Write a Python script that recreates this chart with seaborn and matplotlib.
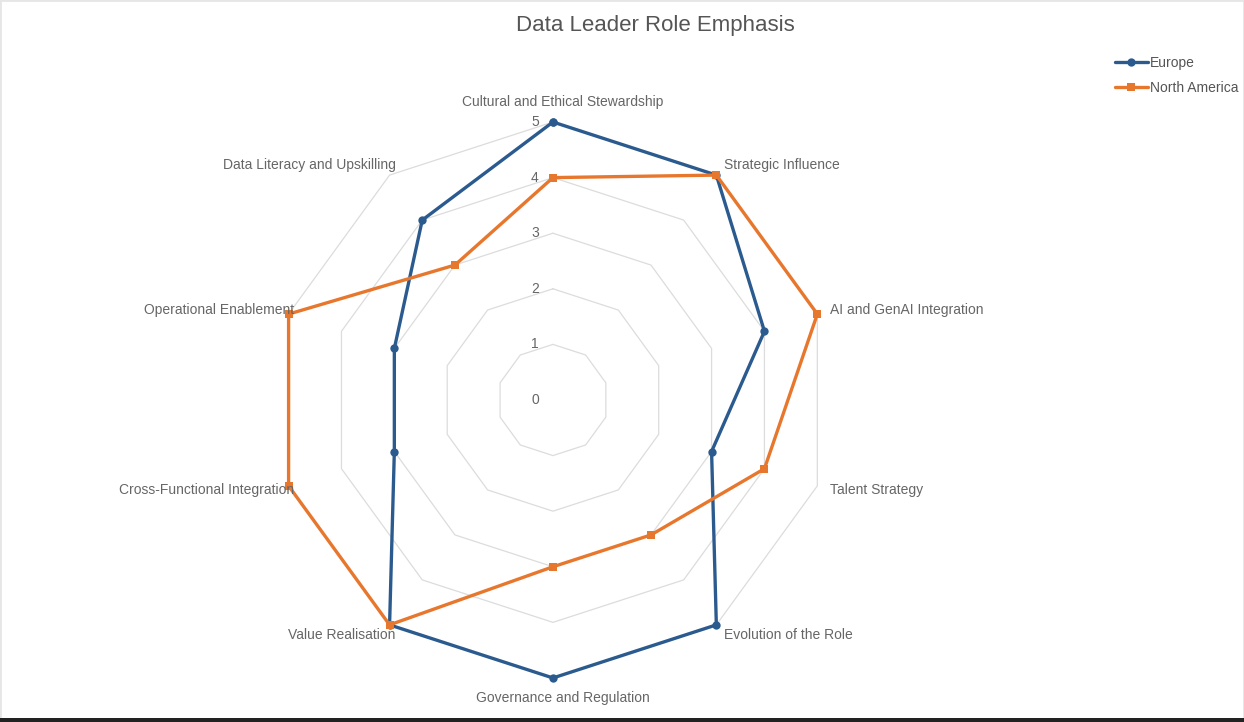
import numpy as np
import pandas as pd
import seaborn as sns
import matplotlib.pyplot as plt
from matplotlib.patches import Rectangle

categories = [
    "Cultural and Ethical Stewardship",
    "Strategic Influence",
    "AI and GenAI Integration",
    "Talent Strategy",
    "Evolution of the Role",
    "Governance and Regulation",
    "Value Realisation",
    "Cross-Functional Integration",
    "Operational Enablement",
    "Data Literacy and Upskilling",
]
europe = [5, 5, 4, 3, 5, 5, 5, 3, 3, 4]
north_america = [4, 5, 5, 4, 3, 3, 5, 5, 5, 3]
ticks = [0, 1, 2, 3, 4, 5]

sns.set_theme(style="white")
plt.rcParams["font.family"] = ["Liberation Sans", "DejaVu Sans"]

n = len(categories)
angles = np.linspace(0, 2 * np.pi, n, endpoint=False)
closed_angles = np.append(angles, 2 * np.pi)

# long table, each series closed by repeating the first value
frames = []
for name, vals in [("Europe", europe), ("North America", north_america)]:
    frames.append(pd.DataFrame({"series": name, "theta": closed_angles,
                                "value": list(vals) + [vals[0]]}))
df = pd.concat(frames, ignore_index=True)

fig = plt.figure(figsize=(12.44, 7.22), dpi=100)
ax = fig.add_axes([0.221, 0.061, 0.447, 0.770], projection="polar")
ax.set_theta_zero_location("N")
ax.set_theta_direction(-1)
ax.grid(False)
ax.spines["polar"].set_visible(False)
ax.set_facecolor("none")

# polygon grid
for t in ticks[1:]:
    ax.plot(closed_angles, [t] * len(closed_angles), color="#dcdcdc", lw=0.9, zorder=1)

for t in ticks:
    ax.annotate(str(t), xy=(0, t), xytext=(-18, 0), textcoords="offset pixels",
                ha="center", va="center", fontsize=10, color="#666666")

colors = {"Europe": "#2b5b8e", "North America": "#e8772e"}
sns.lineplot(data=df, x="theta", y="value", hue="series", style="series",
             markers={"Europe": "o", "North America": "s"}, dashes=False,
             palette=colors, sort=False, estimator=None, units="series",
             lw=2.4, markersize=6, markeredgewidth=0, ax=ax, legend=True, zorder=3)
for line in ax.lines:
    line.set_clip_on(False)
ax.set_xlabel("")
ax.set_ylabel("")
ax.set_xticks([])
ax.set_yticks([])
ax.set_ylim(0, 5)

for a, lab in zip(angles, categories):
    s, c = np.sin(a), np.cos(a)
    if abs(s) < 1e-6:
        ha = "center"
        va = "bottom" if c > 0 else "top"
        dx = 10
    elif s > 0:
        ha, va, dx = "left", "center", 13 * s
    else:
        ha, va, dx = "right", "center", 6
    ax.annotate(lab, xy=(a, 5), xytext=(dx, 13 * c), textcoords="offset pixels",
                ha=ha, va=va, fontsize=10, color="#666666")

handles, labels = ax.get_legend_handles_labels()
ax.legend_.remove()
fig.legend(handles, labels, loc="upper left", bbox_to_anchor=(1109 / 1244, 1 - 50 / 722),
           frameon=False, fontsize=10, handlelength=2.4, handletextpad=0.15,
           labelspacing=0.85, borderaxespad=0, labelcolor="#555555")

fig.suptitle("Data Leader Role Emphasis", x=655 / 1244, y=1 - 26 / 722, va="center",
             fontsize=16, color="#555555")

fig.patches.append(Rectangle((0, 0), 1, 1, transform=fig.transFigure, fill=False,
                             edgecolor="#e6e6e6", lw=2))
fig.patches.append(Rectangle((0, 0), 1, 4 / 722, transform=fig.transFigure,
                             color="#222222", lw=0))

plt.savefig("out.png", dpi=100)
